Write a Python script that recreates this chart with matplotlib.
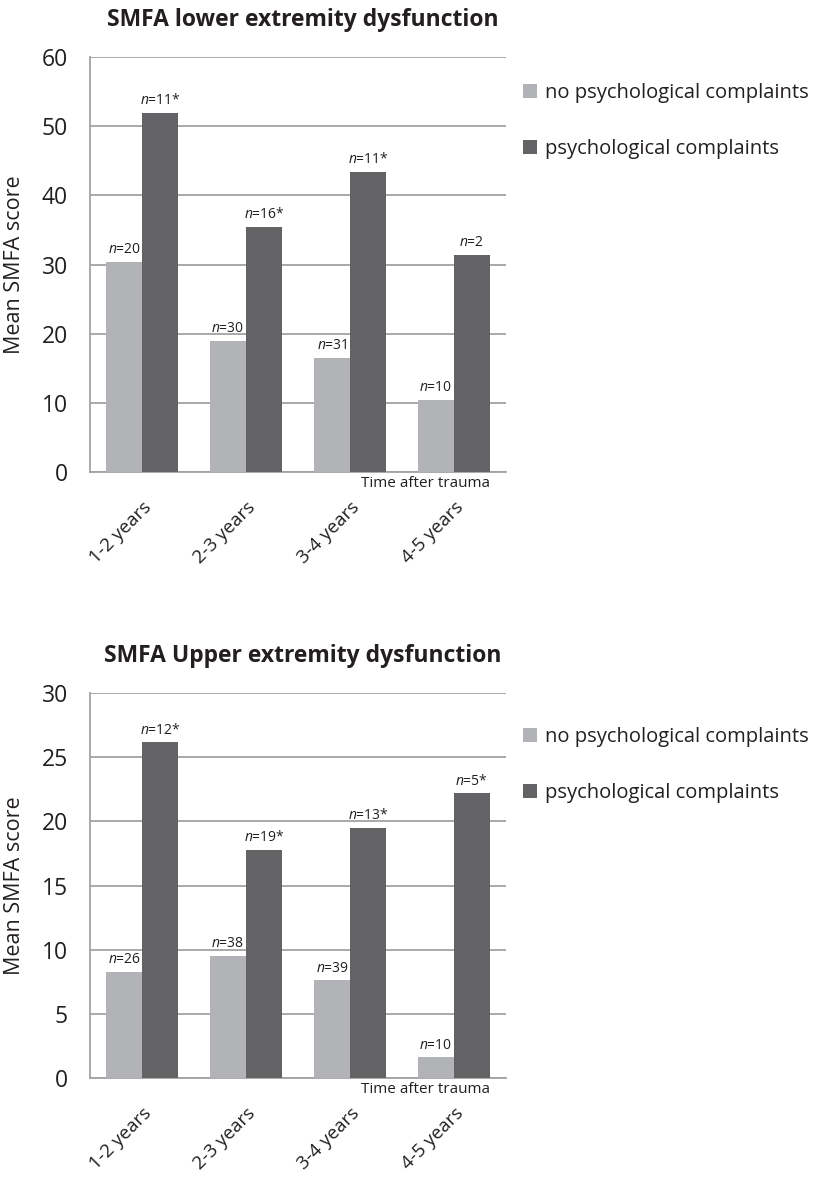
import matplotlib
matplotlib.use("Agg")
import matplotlib.pyplot as plt
import numpy as np

categories = ["1-2 years", "2-3 years", "3-4 years", "4-5 years"]
series_names = ["no psychological complaints", "psychological complaints"]

lower_no = [30.4, 18.9, 16.5, 10.4]
lower_yes = [51.9, 35.4, 43.4, 31.4]
lower_n_no = ["20", "30", "31", "10"]
lower_n_yes = ["11*", "16*", "11*", "2"]

upper_no = [8.3, 9.5, 7.6, 1.6]
upper_yes = [26.15, 17.8, 19.5, 22.2]
upper_n_no = ["26", "38", "39", "10"]
upper_n_yes = ["12*", "19*", "13*", "5*"]

plt.rcParams['font.family'] = ['Open Sans', 'DejaVu Sans']
plt.rcParams['mathtext.fontset'] = 'custom'
plt.rcParams['mathtext.rm'] = 'Open Sans'
plt.rcParams['mathtext.it'] = 'Open Sans:italic'

C_LIGHT = "#b2b3b6"
C_DARK = "#636365"
C_GRID = "#a3a3a3"
C_TEXT = "#231f20"

fig = plt.figure(figsize=(8.14, 12.03), dpi=100)

def draw(ax, title, no, yes, nno, nyes, ymax, step, leg_y):
    x = np.arange(len(categories))
    w = 0.345
    b1 = ax.bar(x - w/2, no, w, color=C_LIGHT, label=series_names[0], zorder=3)
    b2 = ax.bar(x + w/2, yes, w, color=C_DARK, label=series_names[1], zorder=3)
    ax.set_xlim(-0.5, len(categories) - 0.5)
    ax.set_ylim(0, ymax)
    ax.set_yticks(np.arange(0, ymax + step/2, step))
    ax.yaxis.grid(True, color=C_GRID, linewidth=1.3, zorder=0)
    ax.set_axisbelow(True)
    for s in ["top", "right"]:
        ax.spines[s].set_visible(False)
    for s in ["left", "bottom"]:
        ax.spines[s].set_color(C_GRID)
        ax.spines[s].set_linewidth(1.3)
    ax.tick_params(axis='both', length=0, colors=C_TEXT)
    ax.tick_params(axis='y', pad=16, labelsize=16.5)
    ax.set_xticks(x)
    ax.set_xticklabels(categories, rotation=45, ha='right', va='top',
                       rotation_mode='anchor', fontsize=13.5)
    ax.tick_params(axis='x', pad=19)
    ax.set_ylabel("Mean SMFA score", fontsize=15.5, color=C_TEXT, labelpad=12)
    ax.set_title(title, fontsize=16.5, fontweight='bold', color=C_TEXT,
                 pad=22, x=0.512)
    off = ymax * 0.012
    for rects, labels in ((b1, nno), (b2, nyes)):
        for r, lab in zip(rects, labels):
            ax.text(r.get_x() + r.get_width()/2, r.get_height() + off,
                    r"$n$=" + lab, ha='center', va='bottom', fontsize=10,
                    color=C_TEXT)
    ax.text(0.962, -0.01, "Time after trauma", transform=ax.transAxes,
            ha='right', va='top', fontsize=11, color=C_TEXT)
    ax.legend(loc='upper left', bbox_to_anchor=(0.633, leg_y),
              bbox_transform=fig.transFigure, frameon=False, fontsize=14.5,
              handlelength=0.7, handleheight=0.7, handletextpad=0.4,
              labelspacing=1.8, borderaxespad=0, labelcolor=C_TEXT)

ax1 = fig.add_axes([0.1106, 0.6076, 0.511, 0.345])
draw(ax1, "SMFA lower extremity dysfunction", lower_no, lower_yes,
     lower_n_no, lower_n_yes, 60, 10, 1 - 75/1203)

ax2 = fig.add_axes([0.1106, 0.1039, 0.511, 0.320])
draw(ax2, "SMFA Upper extremity dysfunction", upper_no, upper_yes,
     upper_n_no, upper_n_yes, 30, 5, 1 - 719/1203)

fig.savefig("out.png", dpi=100)
